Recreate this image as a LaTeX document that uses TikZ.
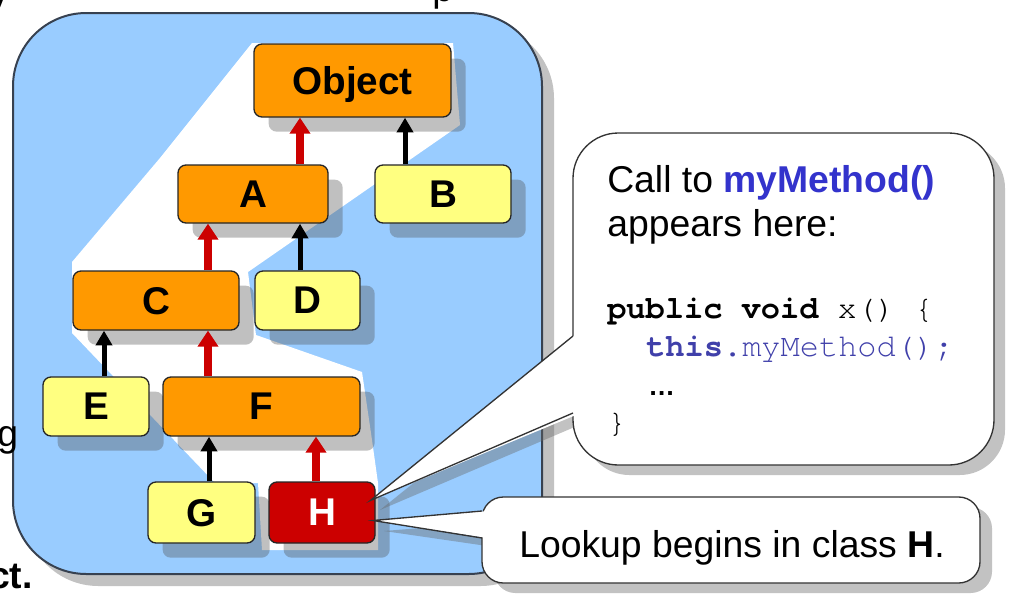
\documentclass[tikz,border=0pt]{standalone}
\usepackage{fontspec}
\setmainfont{Liberation Sans}
\setmonofont{TeX Gyre Cursor}
\usetikzlibrary{arrows.meta,shadows}
\definecolor{panelblue}{RGB}{153,204,255}
\definecolor{panelrim}{RGB}{55,65,80}
\definecolor{clsorange}{RGB}{255,153,0}
\definecolor{clsyellow}{RGB}{255,255,128}
\definecolor{clsred}{RGB}{204,0,0}
\definecolor{callblue}{RGB}{51,51,204}
\definecolor{codeblue}{RGB}{64,64,170}
\tikzset{
  cls/.style={draw=black!85, line width=1pt, rounded corners=6pt, inner sep=0pt,
    text depth=0pt, font=\fontsize{29}{34}\selectfont\bfseries,
    drop shadow={shadow xshift=11pt, shadow yshift=-11pt, opacity=.35, fill=black!70}},
  onpath/.style={cls, fill=clsorange},
  offpath/.style={cls, fill=clsyellow},
  redinh/.style={draw=clsred, line width=6pt, -{Triangle[width=15pt,length=12pt]}},
  blkinh/.style={draw=black, line width=3.75pt, -{Triangle[width=12pt,length=11pt]}},
  callout/.style={fill=white, draw=black!80, line width=1pt},
  calloutshade/.style={fill=black!60, opacity=.4},
  txt/.style={anchor=base west, inner sep=0pt, font=\fontsize{28}{34}\selectfont},
  code/.style={anchor=base west, inner sep=0pt, font=\fontsize{24}{28}\selectfont\ttfamily},
}

\begin{document}
\begin{tikzpicture}[x=0.75pt, y=-0.75pt]
  \useasboundingbox (0,0) rectangle (1009,593);
  \clip (0,0) rectangle (1009,593);

  %% hierarchy panel
  %% ------------------------------------
  \draw[fill=panelblue, draw=panelrim, line width=1.5pt, rounded corners=55pt,
        drop shadow={shadow xshift=9pt, shadow yshift=-9pt, opacity=.4, fill=black!60}]
        (13,13) rectangle (542,574);
  %% lookup path
  \fill[white] (252,43) -- (453,43) -- (460,125) -- (248,272) -- (256,335)
        -- (362,372) -- (372,440) -- (378,483) -- (378,550) -- (262,550)
        -- (258,483) -- (215,483) -- (72,333) -- (72,262) -- (160,158) -- cycle;

  %% classes
  %% ------------------------------------
  \node[onpath,  minimum width=147.75pt, minimum height=54.75pt] (Object) at (352.5,80.5) {Object};
  \node[onpath,  minimum width=112.5pt,  minimum height=43.5pt]  (A) at (253,194)   {A};
  \node[offpath, minimum width=102pt,    minimum height=43.5pt]  (B) at (443,194)   {B};
  \node[onpath,  minimum width=124.5pt,  minimum height=44.25pt] (C) at (156,300.5) {C};
  \node[offpath, minimum width=78.75pt,  minimum height=44.25pt] (D) at (307.5,300.5) {D};
  \node[offpath, minimum width=79.5pt,   minimum height=44.25pt] (E) at (96,406.5)  {E};
  \node[onpath,  minimum width=147.75pt, minimum height=44.25pt] (F) at (261.5,406.5) {F};
  \node[offpath, minimum width=80.25pt,  minimum height=45.75pt] (G) at (201.5,512.5) {G};
  \node[cls, fill=clsred, text=white,
        minimum width=79.5pt, minimum height=45.75pt]          (H) at (322,512.5) {H};

  %% inheritance arrows
  \foreach \from/\to/\col/\kind in {A/Object/300/redinh, B/Object/405/blkinh,
        C/A/208/redinh, D/A/300/blkinh, E/C/104/blkinh, F/C/208/redinh,
        G/F/209/blkinh, H/F/316/redinh}
    \draw[\kind] (\from.north -| \col,0) -- (\to.south -| \col,0);

  %% callouts
  %% ------------------------------------
  \coordinate (tipcall) at ([xshift=-4pt,yshift=9pt]H.east);
  \coordinate (tiplook) at ([xshift=-2pt,yshift=-6pt]H.east);

  \fill[calloutshade, rounded corners=34pt] (584,143) rectangle (1005,475);
  \fill[calloutshade] (584,346) -- (380,510) -- (584,423) -- cycle;
  \draw[callout, rounded corners=34pt] (573,133) rectangle (994,465);
  \fill[white] (576,334) -- (tipcall) -- (576,415) -- cycle;
  \draw[black!80, line width=1pt] (573,336) -- (tipcall) -- (573,413);

  \fill[calloutshade, rounded corners=16pt] (494,507) rectangle (992,593);
  \fill[calloutshade] (494,522) -- (384,531) -- (494,547) -- cycle;
  \draw[callout, rounded corners=16pt] (482,497) rectangle (980,583);
  \fill[white] (487,511) -- (tiplook) -- (487,538) -- cycle;
  \draw[black!80, line width=1pt] (482,511) -- (tiplook) -- (482,538);

  %% texts
  \node[txt] (calltxt) at (607,192) {Call to \textcolor{callblue}{\bfseries myMethod()}};
  \node[txt] (heretxt) at (607,236) {appears here:};
  \node[code] (sigtxt)   at (607,318) {\bfseries public void\mdseries{} x() \{};
  \node[code, text=codeblue] (bodytxt) at (646,356) {\bfseries this\mdseries.myMethod();};
  \node[txt, font=\fontsize{20}{24}\selectfont\bfseries] (dotstxt) at (648,395) {…};
  \node[code] (closetxt) at (607,432) {\}};
  \node[txt] (looktxt) at (519,557) {Lookup begins in class \textbf{H}.};

  %% cut-off words at the edges
  \node[txt, anchor=base east] (fragy) at (9,5) {y};
  \node[txt] (fragp) at (432,1) {p};
  \node[txt] (fragg) at (-3,446) {g};
  \node[txt, anchor=base east] (fragct) at (33,588) {\bfseries ct.};
\end{tikzpicture}
\end{document}
